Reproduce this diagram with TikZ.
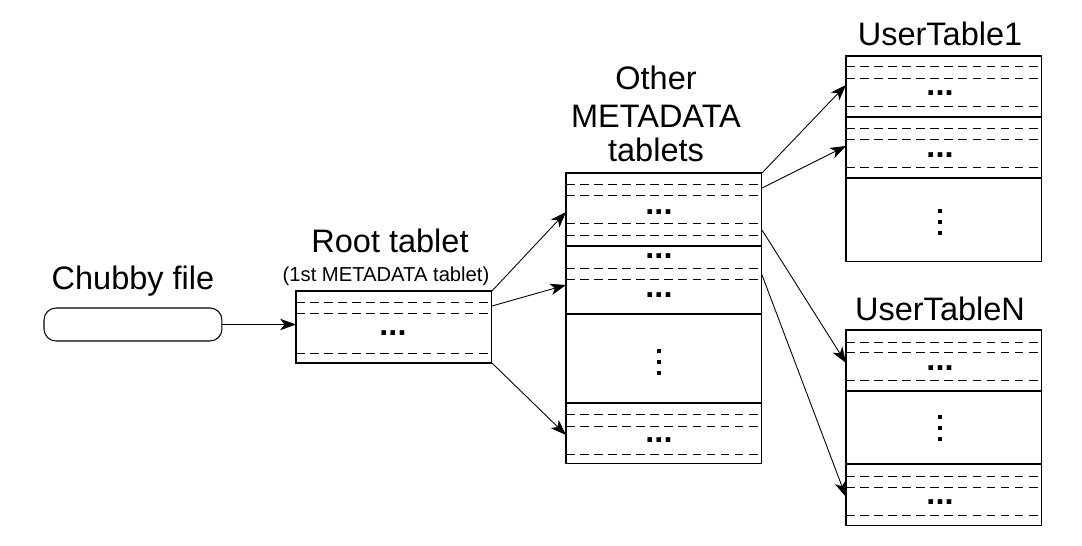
\documentclass[tikz,border=0pt]{standalone}
\usepackage{fontspec}
\setmainfont{Liberation Sans}
\usetikzlibrary{arrows.meta}
\begin{document}
\begin{tikzpicture}[x=0.02cm,y=-0.02cm,
  box/.style={draw, line width=0.6pt, inner sep=0pt, outer sep=0pt, anchor=north west},
  dl/.style={line width=0.5pt, dash pattern=on 5pt off 3pt},
  sl/.style={line width=0.6pt},
  arr/.style={line width=0.5pt, -{Stealth[length=9pt,width=6.5pt,inset=2.5pt]}},
  big/.style={font=\fontsize{18.5}{21}\selectfont, inner sep=0pt, anchor=base},
  small/.style={font=\fontsize{11.5}{13}\selectfont, inner sep=0pt, anchor=base},
  hd/.style={font=\fontsize{18.5}{21}\selectfont\bfseries, inner sep=0pt, anchor=base},
  dotsq/.style={fill=black, draw=none, rectangle, inner sep=0pt, minimum size=0.065cm}
]
\useasboundingbox (0,0) rectangle (1082,545);

% ---- Chubby file
\node[big] (tchubby) at (133,289) {Chubby file};
\node[draw, line width=0.6pt, rounded corners=0.24cm, inner sep=0pt, outer sep=0pt,
      minimum width=3.56cm, minimum height=0.66cm, anchor=north west] (chubby) at (44,308) {};

% ---- Root tablet
\node[big] (troot) at (390,252) {Root tablet};
\node[small] (troot2) at (386,281) {(1st METADATA tablet)};
\node[box, minimum width=3.92cm, minimum height=1.44cm] (root) at (296,291) {};
\draw[dl] (296,302) -- (492,302);
\draw[dl] (296,313) -- (492,313);
\draw[dl] (296,353) -- (492,353);
\node[hd] (rd) at (393,335) {...};

% ---- Metadata tablets
\node[big] (tmeta1) at (656,89) {Other};
\node[big] (tmeta2) at (656,127) {METADATA};
\node[big] (tmeta3) at (656,161) {tablets};
\node[box, minimum width=3.92cm, minimum height=5.82cm] (meta) at (566,173) {};
\draw[dl] (566,184) -- (762,184);
\draw[dl] (566,195) -- (762,195);
\node[hd] (md1) at (659,214) {...};
\draw[dl] (566,223) -- (762,223);
\draw[dl] (566,235) -- (762,235);
\draw[sl] (566,246) -- (762,246);
\node[hd] (md2) at (659,258) {...};
\draw[dl] (566,268) -- (762,268);
\draw[dl] (566,279) -- (762,279);
\node[hd] (md3) at (659,297) {...};
\draw[sl] (566,314) -- (762,314);
\node[dotsq] (md4a) at (659,351) {};
\node[dotsq] (md4b) at (659,362) {};
\node[dotsq] (md4c) at (659,373) {};
\draw[sl] (566,403) -- (762,403);
\draw[dl] (566,414) -- (762,414);
\draw[dl] (566,426) -- (762,426);
\node[hd] (md5) at (659,442) {...};
\draw[dl] (566,454) -- (762,454);

% ---- UserTable1
\node[big] (tut1) at (940,45) {UserTable1};
\node[box, minimum width=3.92cm, minimum height=4.12cm] (ut1) at (846,56) {};
\draw[dl] (846,66) -- (1042,66);
\draw[dl] (846,78) -- (1042,78);
\node[hd] (ud1) at (940,95) {...};
\draw[dl] (846,106) -- (1042,106);
\draw[sl] (846,117) -- (1042,117);
\draw[dl] (846,128) -- (1042,128);
\draw[dl] (846,139) -- (1042,139);
\node[hd] (ud2) at (940,157) {...};
\draw[dl] (846,167) -- (1042,167);
\draw[sl] (846,178) -- (1042,178);
\node[dotsq] (ud3a) at (940,211) {};
\node[dotsq] (ud3b) at (940,222) {};
\node[dotsq] (ud3c) at (940,233) {};

% ---- UserTableN
\node[big] (tutn) at (940,320) {UserTableN};
\node[box, minimum width=3.92cm, minimum height=3.92cm] (utn) at (846,330) {};
\draw[dl] (846,342) -- (1042,342);
\draw[dl] (846,352) -- (1042,352);
\node[hd] (un1) at (940,370) {...};
\draw[dl] (846,380) -- (1042,380);
\draw[sl] (846,391) -- (1042,391);
\node[dotsq] (un2a) at (940,417) {};
\node[dotsq] (un2b) at (940,428) {};
\node[dotsq] (un2c) at (940,439) {};
\draw[sl] (846,464) -- (1042,464);
\draw[dl] (846,476) -- (1042,476);
\draw[dl] (846,487) -- (1042,487);
\node[hd] (un3) at (940,504) {...};
\draw[dl] (846,515) -- (1042,515);

% ---- connector end points
\coordinate (r2) at (492,306);
\coordinate (m1) at (566,212);
\coordinate (m2) at (566,285);
\coordinate (m3) at (566,435);
\coordinate (s2) at (762,188);
\coordinate (s3) at (762,230);
\coordinate (s4) at (762,275);
\coordinate (u1) at (846,85);
\coordinate (u2) at (846,146);
\coordinate (n1) at (846,363);
\coordinate (n2) at (846,497);

% ---- connectors
\draw[arr] (chubby.east) -- (chubby.east -| root.west);
\draw[arr] (root.north east) -- (m1);
\draw[arr] (r2) -- (m2);
\draw[arr] (root.south east) -- (m3);
\draw[arr] (meta.north east) -- (u1);
\draw[arr] (s2) -- (u2);
\draw[arr] (s3) -- (n1);
\draw[arr] (s4) -- (n2);
\end{tikzpicture}
\end{document}
